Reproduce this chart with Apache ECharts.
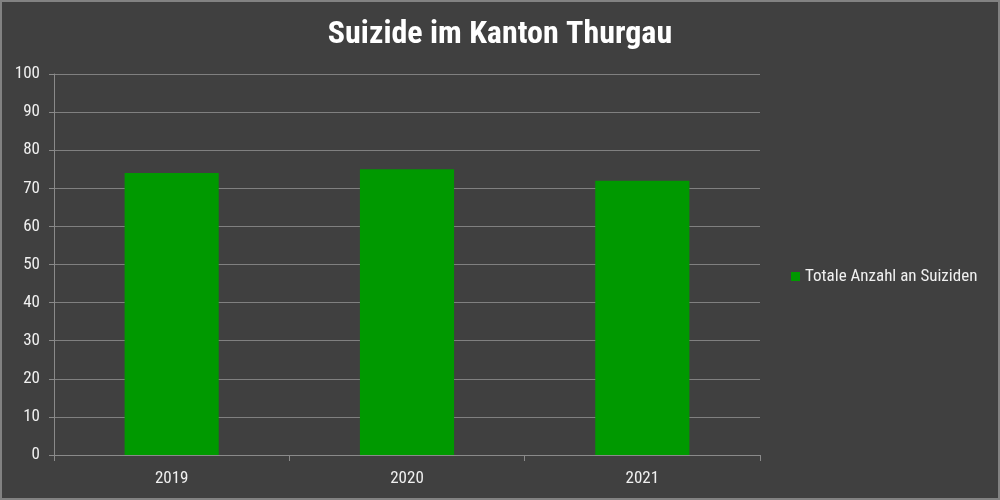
<!DOCTYPE html>
<html><head><meta charset="utf-8">
<script src="https://cdn.jsdelivr.net/npm/echarts@6/dist/echarts.min.js"></script>
<style>
html,body{margin:0;padding:0;background:#404040;}
#c{width:1000px;height:500px;box-sizing:border-box;border:2px solid #828282;}
</style></head><body>
<div id="c"></div>
<script>
const categories = ['2019', '2020', '2021'];
const values = [74, 75, 72];
const seriesName = 'Totale Anzahl an Suiziden';
const titleText = 'Suizide im Kanton Thurgau';

const FONT = '"Roboto Condensed","Liberation Sans Narrow","DejaVu Sans Condensed",Roboto,sans-serif';
const chart = echarts.init(document.getElementById('c'));
chart.setOption({
  backgroundColor: '#404040',
  textStyle: { fontFamily: FONT },
  title: {
    text: titleText, left: 'center', top: 12,
    textStyle: { color: '#ffffff', fontSize: 32, fontWeight: 'bold', fontFamily: FONT }
  },
  legend: {
    data: [seriesName], orient: 'vertical', left: 789, top: 266, padding: 0,
    itemWidth: 9, itemHeight: 9, itemGap: 4, icon: 'rect',
    textStyle: { color: '#f0f0f0', fontSize: 17, fontFamily: FONT }
  },
  grid: { left: 52, right: 238, top: 72, bottom: 43, containLabel: false },
  xAxis: {
    type: 'category', data: categories,
    axisLine: { lineStyle: { color: '#8a8a8a', width: 1 } },
    axisTick: { show: true, length: 6, lineStyle: { color: '#8a8a8a' } },
    axisLabel: { color: '#f0f0f0', fontSize: 17, margin: 15, fontFamily: FONT }
  },
  yAxis: {
    type: 'value', min: 0, max: 100, interval: 10,
    axisLine: { show: true, lineStyle: { color: '#8a8a8a' } },
    axisTick: { show: true, length: 5, lineStyle: { color: '#8a8a8a' } },
    axisLabel: { color: '#f0f0f0', fontSize: 17, margin: 14, fontFamily: FONT },
    splitLine: { lineStyle: { color: '#808080', width: 1 } }
  },
  series: [{
    name: seriesName, type: 'bar', data: values, barWidth: '40%',
    itemStyle: { color: '#009900' }
  }]
});
</script>
</body></html>
